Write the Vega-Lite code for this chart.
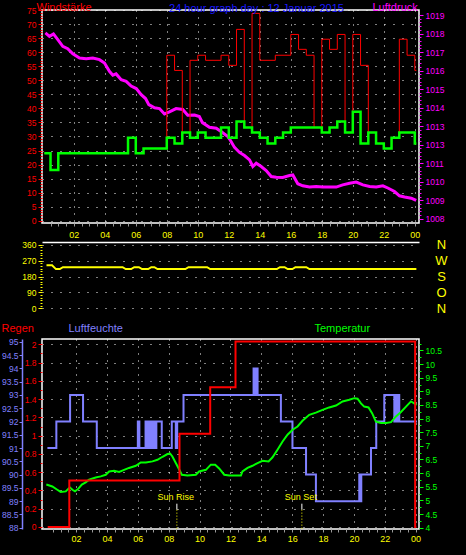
{
"$schema": "https://vega.github.io/schema/vega-lite/v6.json",
"background": "#000000",
"padding": {"left": 0, "top": 0, "right": 30, "bottom": 20},
"config": {
 "font": "Liberation Sans",
 "view": {"stroke": "#ffffff", "strokeWidth": 1.5},
 "axis": {"labelFont": "Liberation Sans", "titleFont": "Liberation Sans", "labelFontSize": 8.5, "titleFontSize": 11, "titleFontWeight": "normal", "grid": false, "domain": false, "labelOverlap": false, "tickWidth": 1}
},
"datasets": {
 "windavg": [{"h":0.1,"v":24},{"h":0.5,"v":18.1},{"h":1.0,"v":24},{"h":5.5,"v":29.5},{"h":6.0,"v":24},{"h":6.5,"v":25.7},{"h":8.0,"v":29.5},{"h":8.5,"v":27.5},{"h":9.0,"v":31.4},{"h":9.5,"v":29.5},{"h":10.0,"v":31.4},{"h":10.5,"v":29.5},{"h":11.5,"v":33.2},{"h":12.0,"v":29.5},{"h":12.5,"v":35.3},{"h":13.0,"v":33.2},{"h":13.5,"v":31.4},{"h":14.0,"v":29.5},{"h":14.5,"v":27.5},{"h":15.0,"v":29.5},{"h":15.5,"v":31.4},{"h":16.0,"v":33.2},{"h":18.0,"v":31.4},{"h":18.5,"v":33.2},{"h":19.0,"v":35.3},{"h":19.5,"v":31.4},{"h":20.0,"v":38.8},{"h":20.5,"v":27.5},{"h":21.0,"v":31.4},{"h":21.5,"v":27.5},{"h":22.0,"v":25.7},{"h":22.5,"v":29.5},{"h":23.0,"v":31.4},{"h":24.0,"v":27.5},{"h":24.1,"v":27.5}],
 "windgust": [{"h":0.1,"v":24},{"h":0.5,"v":18.1},{"h":1.0,"v":24},{"h":5.5,"v":29.5},{"h":6.0,"v":24},{"h":6.5,"v":25.7},{"h":8.0,"v":58.9},{"h":8.5,"v":53.5},{"h":9.0,"v":31.4},{"h":9.5,"v":57.1},{"h":10.0,"v":58.9},{"h":10.5,"v":57.1},{"h":11.5,"v":58.9},{"h":12.0,"v":55.3},{"h":12.5,"v":68.1},{"h":13.0,"v":33.2},{"h":13.5,"v":73.8},{"h":14.0,"v":57.1},{"h":15.0,"v":58.9},{"h":16.0,"v":66.3},{"h":16.5,"v":61},{"h":17.0,"v":58.9},{"h":17.5,"v":33.2},{"h":18.0,"v":64.6},{"h":18.5,"v":61},{"h":19.0,"v":66.3},{"h":19.5,"v":31.4},{"h":20.0,"v":66.3},{"h":20.5,"v":55.3},{"h":21.0,"v":31.4},{"h":21.5,"v":27.5},{"h":22.0,"v":25.7},{"h":22.5,"v":29.5},{"h":23.0,"v":64.6},{"h":23.5,"v":58.9},{"h":24.0,"v":53.5},{"h":24.1,"v":53.5}],
 "pressure": [{"h":0.17,"p":1018.03},{"h":0.43,"p":1017.85},{"h":0.69,"p":1017.98},{"h":0.97,"p":1017.67},{"h":1.29,"p":1017.31},{"h":1.61,"p":1017.18},{"h":1.94,"p":1016.9},{"h":2.37,"p":1016.68},{"h":2.8,"p":1016.64},{"h":3.23,"p":1016.68},{"h":3.66,"p":1016.59},{"h":3.98,"p":1016.41},{"h":4.3,"p":1015.96},{"h":4.52,"p":1015.75},{"h":4.73,"p":1015.82},{"h":5.06,"p":1015.51},{"h":5.38,"p":1015.42},{"h":5.7,"p":1015.16},{"h":6.03,"p":1015.03},{"h":6.35,"p":1014.7},{"h":6.63,"p":1014.49},{"h":6.84,"p":1014.16},{"h":7.21,"p":1013.99},{"h":7.53,"p":1013.95},{"h":7.85,"p":1013.66},{"h":8.17,"p":1013.77},{"h":8.6,"p":1013.95},{"h":9.03,"p":1013.9},{"h":9.35,"p":1013.59},{"h":9.79,"p":1013.6},{"h":10.1,"p":1013.52},{"h":10.3,"p":1013.19},{"h":10.75,"p":1012.94},{"h":11.19,"p":1012.89},{"h":11.5,"p":1012.71},{"h":11.94,"p":1012.44},{"h":12.05,"p":1012.3},{"h":12.37,"p":1011.85},{"h":12.69,"p":1011.58},{"h":13.01,"p":1011.41},{"h":13.34,"p":1011.18},{"h":13.55,"p":1010.82},{"h":13.77,"p":1011.0},{"h":14.09,"p":1010.82},{"h":14.41,"p":1010.6},{"h":14.74,"p":1010.28},{"h":15.06,"p":1010.24},{"h":15.48,"p":1010.23},{"h":15.92,"p":1010.33},{"h":16.13,"p":1010.36},{"h":16.45,"p":1009.89},{"h":16.77,"p":1009.78},{"h":17.21,"p":1009.71},{"h":17.64,"p":1009.74},{"h":18.06,"p":1009.71},{"h":18.5,"p":1009.71},{"h":18.93,"p":1009.71},{"h":19.35,"p":1009.83},{"h":19.79,"p":1009.92},{"h":20.22,"p":1009.98},{"h":20.65,"p":1009.83},{"h":21.08,"p":1009.74},{"h":21.51,"p":1009.71},{"h":21.94,"p":1009.78},{"h":22.26,"p":1009.66},{"h":22.69,"p":1009.47},{"h":23.01,"p":1009.24},{"h":23.34,"p":1009.17},{"h":23.77,"p":1009.11},{"h":24.09,"p":1008.99}],
 "winddir": [{"h":0.24,"d":244},{"h":0.6,"d":244},{"h":0.85,"d":222},{"h":1.1,"d":222},{"h":1.3,"d":233},{"h":5.15,"d":233},{"h":5.35,"d":222},{"h":5.7,"d":222},{"h":5.9,"d":233},{"h":6.2,"d":233},{"h":6.4,"d":222},{"h":6.8,"d":222},{"h":7.0,"d":233},{"h":7.2,"d":233},{"h":7.4,"d":222},{"h":9.2,"d":222},{"h":9.4,"d":233},{"h":10.6,"d":233},{"h":10.8,"d":222},{"h":15.1,"d":222},{"h":15.3,"d":233},{"h":15.6,"d":233},{"h":15.8,"d":222},{"h":16.1,"d":222},{"h":16.3,"d":233},{"h":17.0,"d":233},{"h":17.2,"d":222},{"h":24.1,"d":222}],
 "rain": [{"h":0.16,"r":0},{"h":1.56,"r":0.51},{"h":8.7,"r":1.02},{"h":10.69,"r":1.53},{"h":12.33,"r":2.03},{"h":23.97,"r":0},{"h":24.05,"r":0}],
 "humidity": [{"h":0.14,"rh":91},{"h":0.72,"rh":92},{"h":1.61,"rh":93},{"h":2.45,"rh":92},{"h":3.34,"rh":91},{"h":6.0,"rh":92},{"h":6.1,"rh":91},{"h":6.5,"rh":92},{"h":6.55,"rh":91},{"h":6.6,"rh":92},{"h":6.65,"rh":91},{"h":6.7,"rh":92},{"h":6.75,"rh":91},{"h":6.8,"rh":92},{"h":6.85,"rh":91},{"h":6.9,"rh":92},{"h":6.95,"rh":91},{"h":7.0,"rh":92},{"h":7.05,"rh":91},{"h":7.1,"rh":92},{"h":7.15,"rh":91},{"h":7.2,"rh":92},{"h":7.55,"rh":91},{"h":8.2,"rh":92},{"h":8.46,"rh":91},{"h":8.55,"rh":92},{"h":8.96,"rh":93},{"h":13.5,"rh":94},{"h":13.55,"rh":93},{"h":13.6,"rh":94},{"h":13.65,"rh":93},{"h":13.7,"rh":94},{"h":13.76,"rh":93},{"h":15.27,"rh":92},{"h":16.02,"rh":91},{"h":16.9,"rh":90},{"h":17.54,"rh":89},{"h":20.35,"rh":90},{"h":20.42,"rh":89},{"h":20.48,"rh":90},{"h":21.11,"rh":91},{"h":21.45,"rh":92},{"h":21.97,"rh":93},{"h":22.62,"rh":92},{"h":22.67,"rh":93},{"h":22.72,"rh":92},{"h":22.77,"rh":93},{"h":22.82,"rh":92},{"h":22.87,"rh":93},{"h":22.94,"rh":92},{"h":24.09,"rh":92}],
 "temp": [{"h":0.07,"t":5.58},{"h":0.46,"t":5.51},{"h":0.78,"t":5.39},{"h":1.0,"t":5.31},{"h":1.33,"t":5.33},{"h":1.59,"t":5.48},{"h":1.76,"t":5.39},{"h":1.93,"t":5.33},{"h":2.15,"t":5.43},{"h":2.37,"t":5.58},{"h":2.62,"t":5.66},{"h":2.84,"t":5.76},{"h":3.27,"t":5.84},{"h":3.6,"t":5.88},{"h":3.92,"t":5.94},{"h":4.14,"t":6.06},{"h":4.46,"t":6.09},{"h":4.79,"t":6.04},{"h":5.11,"t":6.12},{"h":5.43,"t":6.19},{"h":5.87,"t":6.27},{"h":6.19,"t":6.39},{"h":6.52,"t":6.39},{"h":6.95,"t":6.43},{"h":7.27,"t":6.49},{"h":7.6,"t":6.6},{"h":7.92,"t":6.7},{"h":8.09,"t":6.72},{"h":8.24,"t":6.61},{"h":8.46,"t":6.37},{"h":8.63,"t":6.19},{"h":8.85,"t":5.94},{"h":9.22,"t":5.91},{"h":9.76,"t":5.94},{"h":9.97,"t":6.06},{"h":10.41,"t":6.12},{"h":10.73,"t":6.31},{"h":11.01,"t":6.31},{"h":11.27,"t":6.17},{"h":11.6,"t":5.94},{"h":11.92,"t":5.91},{"h":12.68,"t":5.91},{"h":12.78,"t":6.06},{"h":13.11,"t":6.19},{"h":13.43,"t":6.27},{"h":13.76,"t":6.37},{"h":14.08,"t":6.45},{"h":14.47,"t":6.43},{"h":14.73,"t":6.58},{"h":15.05,"t":6.86},{"h":15.38,"t":7.16},{"h":15.7,"t":7.41},{"h":16.03,"t":7.59},{"h":16.35,"t":7.71},{"h":16.67,"t":7.92},{"h":17.11,"t":8.14},{"h":17.54,"t":8.22},{"h":17.97,"t":8.32},{"h":18.4,"t":8.41},{"h":18.84,"t":8.48},{"h":19.27,"t":8.63},{"h":19.7,"t":8.69},{"h":20.03,"t":8.75},{"h":20.24,"t":8.73},{"h":20.46,"t":8.56},{"h":20.67,"t":8.44},{"h":20.95,"t":8.41},{"h":21.18,"t":8.2},{"h":21.43,"t":7.89},{"h":21.76,"t":7.84},{"h":22.09,"t":7.84},{"h":22.41,"t":7.87},{"h":22.73,"t":8.08},{"h":23.05,"t":8.24},{"h":23.38,"t":8.44},{"h":23.7,"t":8.63},{"h":23.91,"t":8.56},{"h":24.07,"t":8.5}],
 "sun": [{"event":"Sun Rise","h":8.53},{"event":"Sun Set","h":16.63}]
},
"spacing": 19,
"bounds": "flush",
"vconcat": [
   {
    "width": 377, "height": 213,
    "title": {"text": "24 hour graph day : 12 Januar 2015", "color": "#1a1aff", "fontSize": 11, "fontWeight": "normal", "font": "Liberation Sans", "anchor": "middle", "frame": "group", "offset": 0, "dx": 26, "dy": 22, "baseline": "alphabetic"},
    "layer": [
     {
      "data": {"name": "pressure"},
      "mark": {"type": "line", "color": "#ff00ff", "strokeWidth": 3},
      "encoding": {
       "x": {"field": "h", "type": "quantitative", "scale": {"domain": [-0.05, 24.27], "nice": false, "zero": false},
        "axis": {"orient": "bottom", "values": [0.5,1,1.5,2,2.5,3,3.5,4,4.5,5,5.5,6,6.5,7,7.5,8,8.5,9,9.5,10,10.5,11,11.5,12,12.5,13,13.5,14,14.5,15,15.5,16,16.5,17,17.5,18,18.5,19,19.5,20,20.5,21,21.5,22,22.5,23,23.5,24], "tickCount": 200, "labels": false, "labelOverlap": false, "tickColor": "#9a9a9a", "tickSize": 3, "grid": true, "gridColor": "#ffffff", "gridDash": [1, 6], "gridOpacity": {"condition": {"test": "datum.value % 2 === 0", "value": 1}, "value": 0}, "title": null}},
       "y": {"field": "p", "type": "quantitative", "scale": {"domain": [1007.77, 1019.27], "nice": false, "zero": false},
        "axis": {"orient": "right", "values": [1008,1008.2,1008.4,1008.6,1008.8,1009,1009.2,1009.4,1009.6,1009.8,1010,1010.2,1010.4,1010.6,1010.8,1011,1011.2,1011.4,1011.6,1011.8,1012,1012.2,1012.4,1012.6,1012.8,1013,1013.2,1013.4,1013.6,1013.8,1014,1014.2,1014.4,1014.6,1014.8,1015,1015.2,1015.4,1015.6,1015.8,1016,1016.2,1016.4,1016.6,1016.8,1017,1017.2,1017.4,1017.6,1017.8,1018,1018.2,1018.4,1018.6,1018.8,1019],
         "labelExpr": "abs(datum.value - round(datum.value)) < 0.01 ? (round(datum.value) == 1012 ? '1013' : '' + round(datum.value)) : ''",
         "labelOverlap": false,
         "labelColor": "#ff00ff", "tickColor": "#ff00ff",
         "tickSize": {"condition": {"test": "abs(datum.value - round(datum.value)) < 0.01", "value": 4}, "value": 2},
         "labelPadding": 2,
         "title": "Luftdruck", "titleAngle": 0, "titleAlign": "left", "titleBaseline": "alphabetic", "titleX": -47, "titleY": 0, "titleColor": "#ff00ff"}}
      }
     },
     {
      "data": {"name": "windgust"},
      "mark": {"type": "line", "color": "#ff0000", "strokeWidth": 1, "interpolate": "step-after"},
      "encoding": {
       "x": {"field": "h", "type": "quantitative", "scale": {"domain": [-0.05, 24.27], "nice": false, "zero": false}},
       "y": {"field": "v", "type": "quantitative", "scale": {"domain": [-0.8, 75], "nice": false, "zero": false},
        "axis": {"orient": "left", "values": [0,1,2,3,4,5,6,7,8,9,10,11,12,13,14,15,16,17,18,19,20,21,22,23,24,25,26,27,28,29,30,31,32,33,34,35,36,37,38,39,40,41,42,43,44,45,46,47,48,49,50,51,52,53,54,55,56,57,58,59,60,61,62,63,64,65,66,67,68,69,70,71,72,73,74,75],
         "labelExpr": "datum.value % 5 === 0 ? '' + datum.value : ''",
         "labelOverlap": false,
         "labelColor": "#ff0000", "tickColor": "#ff0000",
         "tickSize": {"condition": {"test": "datum.value % 5 === 0", "value": 4}, "value": 2},
         "labelPadding": 2,
         "grid": true, "gridColor": "#ffffff", "gridDash": [1, 8],
         "gridOpacity": {"condition": {"test": "datum.value % 5 === 0", "value": 1}, "value": 0},
         "title": "Windstärke", "titleAngle": 0, "titleAlign": "left", "titleBaseline": "alphabetic", "titleX": -6, "titleY": 0, "titleColor": "#ff0000"}}
      }
     },
     {
      "data": {"name": "windavg"},
      "mark": {"type": "line", "color": "#00ff00", "strokeWidth": 2.5, "interpolate": "step-after"},
      "encoding": {
       "x": {"field": "h", "type": "quantitative", "scale": {"domain": [-0.05, 24.27], "nice": false, "zero": false}},
       "y": {"field": "v", "type": "quantitative", "scale": {"domain": [-0.8, 75], "nice": false, "zero": false}, "axis": null}
      }
     }
    ],
    "resolve": {"scale": {"y": "independent"}, "axis": {"y": "independent"}}
   },
   {
    "width": 377, "height": 78,
    "view": {"stroke": null},
    "layer": [
     {
      "data": {"name": "winddir"},
      "mark": {"type": "line", "color": "#ffff00", "strokeWidth": 2},
      "encoding": {
       "x": {"field": "h", "type": "quantitative", "scale": {"domain": [-0.05, 24.27], "nice": false, "zero": false},
        "axis": {"orient": "top", "values": [2,4,6,8,10,12,14,16,18,20,22,24], "tickCount": 200, "labelExpr": "datum.value == 24 ? '00' : (datum.value < 10 ? '0' : '') + datum.value", "labelOverlap": false, "labelFlush": false, "labelColor": "#ffff00", "labelFontSize": 9, "ticks": false, "domain": true, "domainColor": "#ffffff", "domainWidth": 1.5, "labelPadding": 3, "title": null}},
       "y": {"field": "d", "type": "quantitative", "scale": {"domain": [-65.5, 375], "nice": false, "zero": false},
        "axis": {"orient": "left", "values": [0,15,30,45,60,75,90,105,120,135,150,165,180,195,210,225,240,255,270,285,300,315,330,345,360],
         "labelExpr": "datum.value % 90 === 0 ? '' + datum.value : ''",
         "labelOverlap": false,
         "labelColor": "#ffff00", "tickColor": "#ffff00",
         "tickSize": {"condition": {"test": "datum.value % 90 === 0", "value": 4}, "value": 2},
         "labelPadding": 2,
         "grid": true, "gridColor": "#ffffff", "gridDash": [1, 8],
         "gridOpacity": {"condition": {"test": "datum.value % 90 === 0", "value": 1}, "value": 0},
         "title": null}}
      }
     },
     {
      "data": {"name": "winddir"},
      "mark": {"type": "line", "strokeOpacity": 0},
      "encoding": {
       "x": {"field": "h", "type": "quantitative", "scale": {"domain": [-0.05, 24.27], "nice": false, "zero": false}},
       "y": {"field": "d", "type": "quantitative", "scale": {"domain": [-65.5, 375], "nice": false, "zero": false},
        "axis": {"orient": "right", "values": [0, 90, 180, 270, 360], "labelExpr": "datum.value == 270 ? 'W' : (datum.value == 180 ? 'S' : (datum.value == 90 ? 'O' : 'N'))", "labelOverlap": false, "labelColor": "#ffff00", "labelFontSize": 13, "labelAlign": "center", "ticks": false, "labelPadding": 22, "title": null}}
      }
     },
     {
      "mark": {"type": "rule", "color": "#ffff00", "strokeWidth": 1.2},
      "encoding": {
       "x": {"datum": -0.05, "type": "quantitative", "scale": {"domain": [-0.05, 24.27], "nice": false, "zero": false}},
       "y": {"datum": -9, "type": "quantitative", "axis": null},
       "y2": {"datum": 375}
      }
     },
     {
      "mark": {"type": "rule", "color": "#ffffff", "strokeWidth": 1.5},
      "encoding": {
       "x": {"datum": 24.27, "type": "quantitative", "scale": {"domain": [-0.05, 24.27], "nice": false, "zero": false}},
       "y": {"datum": -9, "type": "quantitative", "axis": null},
       "y2": {"datum": 375}
      }
     }
    ],
    "resolve": {"axis": {"y": "independent"}}
   },
 {
  "width": 377, "height": 190,
  "layer": [
   {
    "data": {"name": "humidity"},
    "mark": {"type": "line", "color": "#8080ff", "strokeWidth": 2, "interpolate": "step-after"},
    "encoding": {
     "x": {"field": "h", "type": "quantitative", "scale": {"domain": [-0.21, 24.22], "nice": false, "zero": false},
      "axis": {"orient": "bottom", "values": [0.5,1,1.5,2,2.5,3,3.5,4,4.5,5,5.5,6,6.5,7,7.5,8,8.5,9,9.5,10,10.5,11,11.5,12,12.5,13,13.5,14,14.5,15,15.5,16,16.5,17,17.5,18,18.5,19,19.5,20,20.5,21,21.5,22,22.5,23,23.5,24],
       "tickCount": 200,
       "labelExpr": "datum.value % 2 === 0 ? (datum.value == 24 ? '00' : (datum.value < 10 ? '0' : '') + datum.value) : ''",
       "labelOverlap": false, "labelFlush": false,
       "labelColor": "#ffff00", "labelFontSize": 9, "labelPadding": 2, "tickColor": "#9a9a9a", "tickSize": 3,
       "grid": true, "gridColor": "#ffffff", "gridDash": [1, 6],
       "gridOpacity": {"condition": {"test": "datum.value % 2 === 0", "value": 1}, "value": 0}, "title": null}},
     "y": {"field": "rh", "type": "quantitative", "scale": {"domain": [87.95, 95.11], "nice": false, "zero": false},
      "axis": {"orient": "left", "offset": 20, "values": [88,88.5,89,89.5,90,90.5,91,91.5,92,92.5,93,93.5,94,94.5,95], "format": "~g",
       "labelOverlap": false,
       "labelColor": "#8080ff", "tickColor": "#8080ff", "tickSize": 3, "labelPadding": 1,
       "domain": true, "domainColor": "#8080ff", "domainWidth": 1.5,
       "title": "Luftfeuchte", "titleAngle": 0, "titleAlign": "left", "titleBaseline": "alphabetic", "titleX": 46, "titleY": -8, "titleColor": "#8080ff"}}
    }
   },
   {
    "data": {"name": "temp"},
    "mark": {"type": "line", "color": "#00ff00", "strokeWidth": 2},
    "encoding": {
     "x": {"field": "h", "type": "quantitative", "scale": {"domain": [-0.21, 24.22], "nice": false, "zero": false}},
     "y": {"field": "t", "type": "quantitative", "scale": {"domain": [3.95, 10.92], "nice": false, "zero": false},
      "axis": {"orient": "right", "values": [4,4.25,4.5,4.75,5,5.25,5.5,5.75,6,6.25,6.5,6.75,7,7.25,7.5,7.75,8,8.25,8.5,8.75,9,9.25,9.5,9.75,10,10.25,10.5,10.75],
       "labelExpr": "datum.value % 0.5 === 0 ? format(datum.value, '~g') : ''",
       "labelOverlap": false,
       "labelColor": "#00ff00", "tickColor": "#00ff00",
       "tickSize": {"condition": {"test": "datum.value % 0.5 === 0", "value": 4}, "value": 2},
       "labelPadding": 2,
       "title": "Temperatur", "titleAngle": 0, "titleAlign": "left", "titleBaseline": "alphabetic", "titleX": -105, "titleY": -8, "titleColor": "#00ff00"}}
    }
   },
   {
    "data": {"name": "rain"},
    "mark": {"type": "line", "color": "#ff0000", "strokeWidth": 2, "interpolate": "step-after"},
    "encoding": {
     "x": {"field": "h", "type": "quantitative", "scale": {"domain": [-0.21, 24.22], "nice": false, "zero": false}},
     "y": {"field": "r", "type": "quantitative", "scale": {"domain": [-0.022, 2.058], "nice": false, "zero": false},
      "axis": {"orient": "left", "values": [0,0.1,0.2,0.3,0.4,0.5,0.6,0.7,0.8,0.9,1,1.1,1.2,1.3,1.4,1.5,1.6,1.7,1.8,1.9,2],
       "labelExpr": "abs(datum.value*5 - round(datum.value*5)) < 0.01 ? format(datum.value, '~g') : ''",
       "labelOverlap": false,
       "labelColor": "#ff0000", "tickColor": "#ff0000",
       "tickSize": {"condition": {"test": "abs(datum.value*5 - round(datum.value*5)) < 0.01", "value": 4}, "value": 2},
       "labelPadding": 2,
       "grid": true, "gridColor": "#ffffff", "gridDash": [1, 8],
       "gridOpacity": {"condition": {"test": "abs(datum.value*5 - round(datum.value*5)) < 0.01", "value": 1}, "value": 0},
       "title": "Regen", "titleAngle": 0, "titleAlign": "left", "titleBaseline": "alphabetic", "titleX": -41, "titleY": -8, "titleColor": "#ff0000"}}
    }
   },
   {
    "data": {"name": "sun"},
    "mark": {"type": "rule", "color": "#ffff00", "strokeWidth": 1, "strokeDash": [1, 2]},
    "encoding": {
     "x": {"field": "h", "type": "quantitative", "scale": {"domain": [-0.21, 24.22], "nice": false, "zero": false}},
     "y": {"datum": 0.19, "type": "quantitative", "scale": {"domain": [-0.022, 2.058], "nice": false, "zero": false}, "axis": null},
     "y2": {"datum": -0.022}
    }
   },
   {
    "data": {"name": "sun"},
    "mark": {"type": "rule", "color": "#ffffff", "strokeWidth": 1},
    "encoding": {
     "x": {"field": "h", "type": "quantitative", "scale": {"domain": [-0.21, 24.22], "nice": false, "zero": false}},
     "y": {"datum": 0.255, "type": "quantitative", "scale": {"domain": [-0.022, 2.058], "nice": false, "zero": false}, "axis": null},
     "y2": {"datum": 0.19}
    }
   },
   {
    "data": {"name": "sun"},
    "mark": {"type": "text", "color": "#ffff00", "fontSize": 9, "font": "Liberation Sans", "baseline": "middle", "align": "center", "dx": -1},
    "encoding": {
     "x": {"field": "h", "type": "quantitative", "scale": {"domain": [-0.21, 24.22], "nice": false, "zero": false}},
     "y": {"datum": 0.323, "type": "quantitative", "scale": {"domain": [-0.022, 2.058], "nice": false, "zero": false}, "axis": null},
     "text": {"field": "event"}
    }
   }
  ],
  "resolve": {"scale": {"y": "independent"}, "axis": {"y": "independent"}}
 }
]
}
